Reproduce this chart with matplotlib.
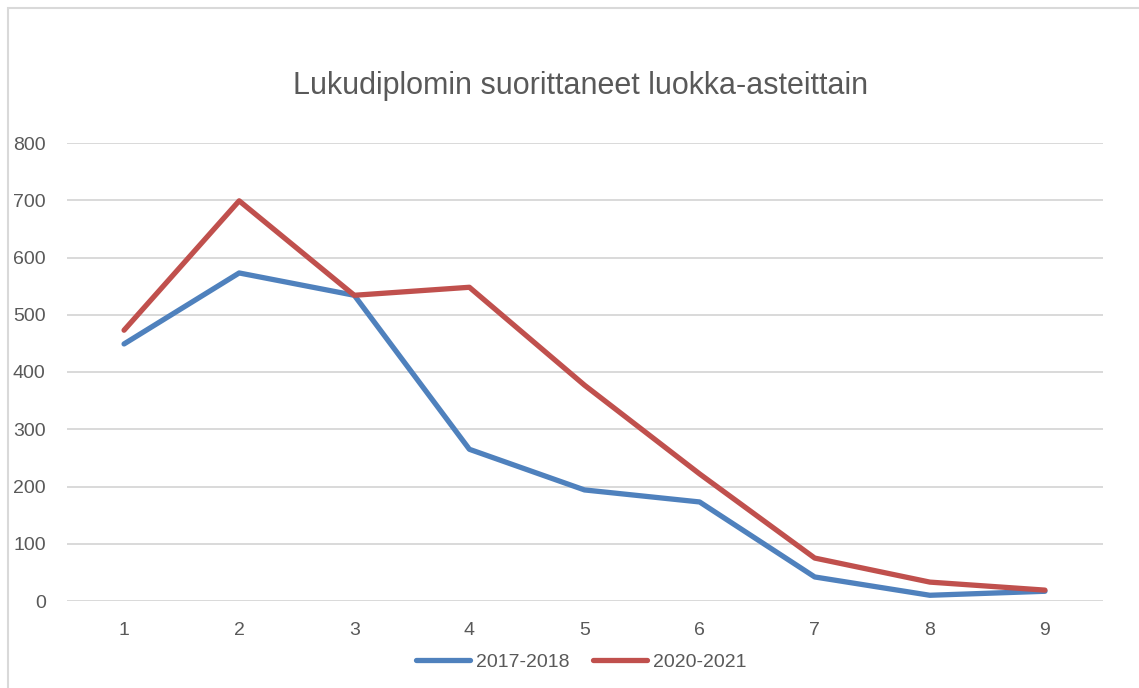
import matplotlib.pyplot as plt
from matplotlib.patches import Rectangle
from matplotlib import font_manager

grades = [1, 2, 3, 4, 5, 6, 7, 8, 9]
y2017 = [449, 573, 534, 265, 194, 173, 42, 10, 17]
y2020 = [473, 699, 534, 548, 377, 222, 75, 33, 19]
series_labels = ['2017-2018', '2020-2021']

names = {f.name for f in font_manager.fontManager.ttflist}
fam = 'Liberation Sans Narrow' if 'Liberation Sans Narrow' in names else 'Liberation Sans'
plt.rcParams['font.family'] = [fam, 'DejaVu Sans']

fig = plt.figure(figsize=(11.39, 6.88), dpi=100)
ax = fig.add_axes([66.5 / 1139, 1 - 601 / 688, (1102.5 - 66.5) / 1139, (601 - 143) / 688])

# outer chart border
fig.patches.append(Rectangle((8 / 1139, -0.05), 1.1, 1 - 8 / 688 + 0.05,
                             transform=fig.transFigure, fill=False,
                             edgecolor='#D9D9D9', linewidth=1.5))

ax.plot(grades, y2017, color='#4F81BD', linewidth=3.8, label=series_labels[0],
        solid_capstyle='round', solid_joinstyle='round')
ax.plot(grades, y2020, color='#C0504D', linewidth=3.8, label=series_labels[1],
        solid_capstyle='round', solid_joinstyle='round')

ax.set_xlim(0.5, 9.5)
ax.set_ylim(0, 800)
ax.set_yticks(range(0, 801, 100))
ax.set_xticks(grades)
ax.grid(axis='y', color='#D9D9D9', linewidth=1.4)
ax.set_axisbelow(True)
for s in ax.spines.values():
    s.set_visible(False)
ax.tick_params(length=0, labelsize=14, labelcolor='#595959')
ax.tick_params(axis='y', pad=15)
ax.tick_params(axis='x', pad=15)

fig.text(581 / 1139, 1 - 86 / 688, 'Lukudiplomin suorittaneet luokka-asteittain',
         ha='center', va='center', fontsize=22, color='#595959')

fig.legend(loc='center', bbox_to_anchor=(581 / 1139, 1 - 662 / 688), ncol=2,
           frameon=False, fontsize=14, labelcolor='#595959', handlelength=2.8,
           columnspacing=1.2, handletextpad=0.3)

fig.savefig('out.png', dpi=100)
